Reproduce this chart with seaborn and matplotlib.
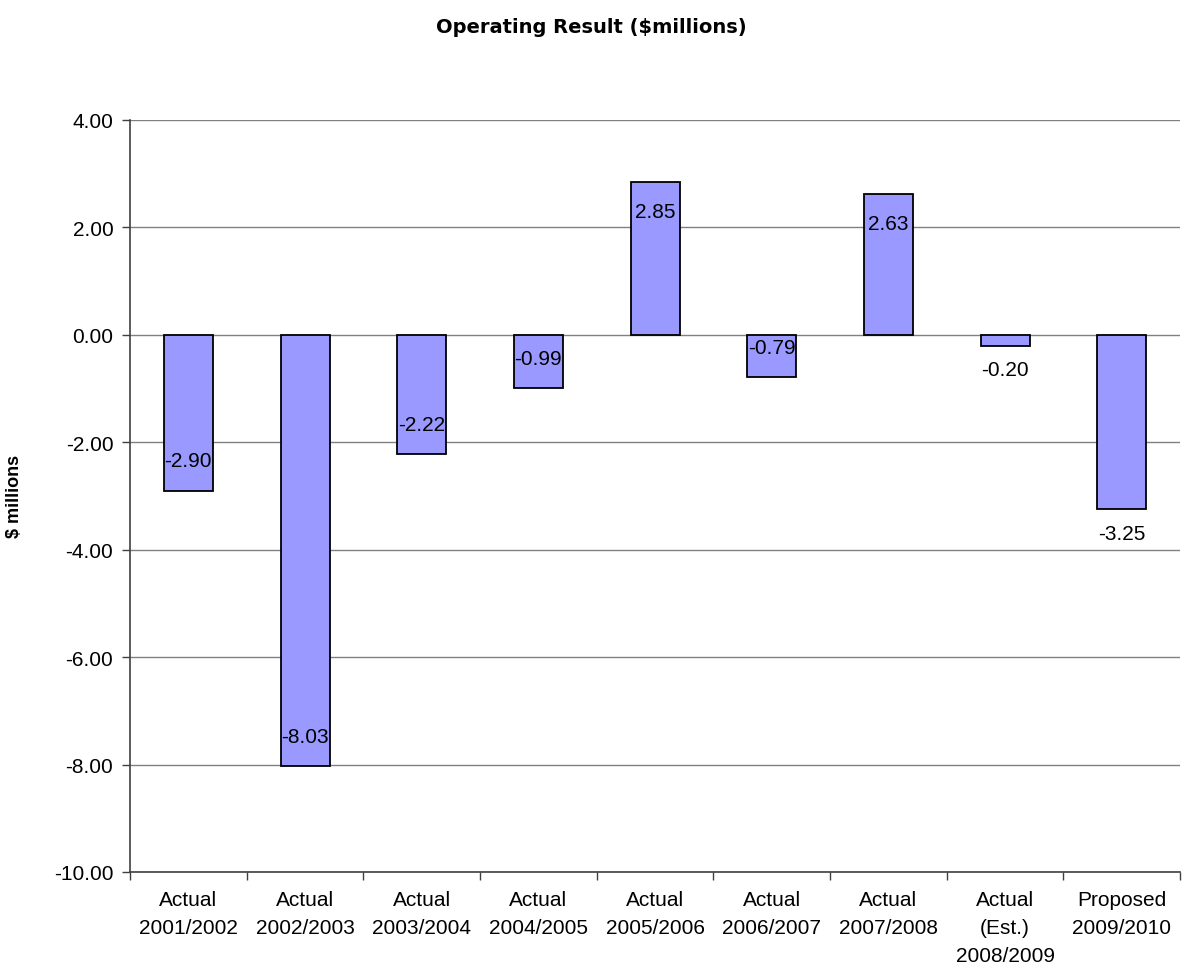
import matplotlib
matplotlib.use("Agg")
import matplotlib.pyplot as plt
import seaborn as sns
import pandas as pd
import numpy as np

# --- DATA ---
categories = ["Actual\n2001/2002", "Actual\n2002/2003", "Actual\n2003/2004",
              "Actual\n2004/2005", "Actual\n2005/2006", "Actual\n2006/2007",
              "Actual\n2007/2008", "Actual\n(Est.)\n2008/2009", "Proposed\n2009/2010"]
values = [-2.90, -8.03, -2.22, -0.99, 2.85, -0.79, 2.63, -0.20, -3.25]
label_inside = [True, True, True, True, True, True, True, False, False]
y_ticks = [4, 2, 0, -2, -4, -6, -8, -10]

df = pd.DataFrame({"period": categories, "result": values})

sns.set_style("white")
plt.rcParams["font.family"] = ["Liberation Sans", "DejaVu Sans"]
plt.rcParams["text.color"] = "black"
plt.rcParams["xtick.color"] = "black"
plt.rcParams["ytick.color"] = "black"

fig = plt.figure(figsize=(11.83, 9.70), dpi=100)
ax = fig.add_axes([0.1099, 0.1, 0.8876, 0.7753])

sns.barplot(data=df, x="period", y="result", color="#9999FF", saturation=1,
            width=0.42, edgecolor="black", linewidth=1.3, ax=ax, zorder=3)

ax.set_ylim(-10, 4)
ax.set_xlim(-0.5, len(categories) - 0.5)
ax.set_yticks(y_ticks)
ax.set_yticklabels([f"{t:.2f}" for t in y_ticks])
ax.yaxis.grid(True, color="#808080", linewidth=1)
ax.set_axisbelow(True)

# x tick marks on category boundaries, labels at centres
ax.set_xticks(np.arange(len(categories)))
ax.set_xticklabels(categories, fontsize=15, linespacing=1.6)
ax.set_xticks(np.arange(len(categories) + 1) - 0.5, minor=True)
ax.tick_params(axis="x", which="major", length=0, pad=13)
ax.tick_params(axis="x", which="minor", length=6, width=1, color="#404040", direction="out")
ax.tick_params(axis="y", length=6, width=1, color="#404040", direction="out", labelsize=15, pad=6)
ax.xaxis.set_ticks_position("bottom")
ax.yaxis.set_ticks_position("left")

for s in ["top", "right"]:
    ax.spines[s].set_visible(False)
for s in ["left", "bottom"]:
    ax.spines[s].set_color("#404040")
    ax.spines[s].set_linewidth(1.2)

ax.set_xlabel("")
ax.set_ylabel("")

# data labels: inside end for most bars, outside end for the last two
for i, (v, inside) in enumerate(zip(values, label_inside)):
    sign = 1 if v >= 0 else -1
    off = -30 * sign if inside else 24 * sign
    ax.annotate(f"{v:.2f}", xy=(i, v), xytext=(0, off), textcoords="offset pixels",
                ha="center", va="center", fontsize=15, color="black", zorder=5)

fig.text(0.5, 0.972, "Operating Result ($millions)", ha="center", va="center",
         fontsize=14, fontweight="bold", family=["DejaVu Sans"])
fig.text(0.012, 0.488, "$ millions", rotation=90, ha="center", va="center",
         fontsize=13, fontweight="bold")

fig.savefig("out.png", dpi=100, facecolor="white")
